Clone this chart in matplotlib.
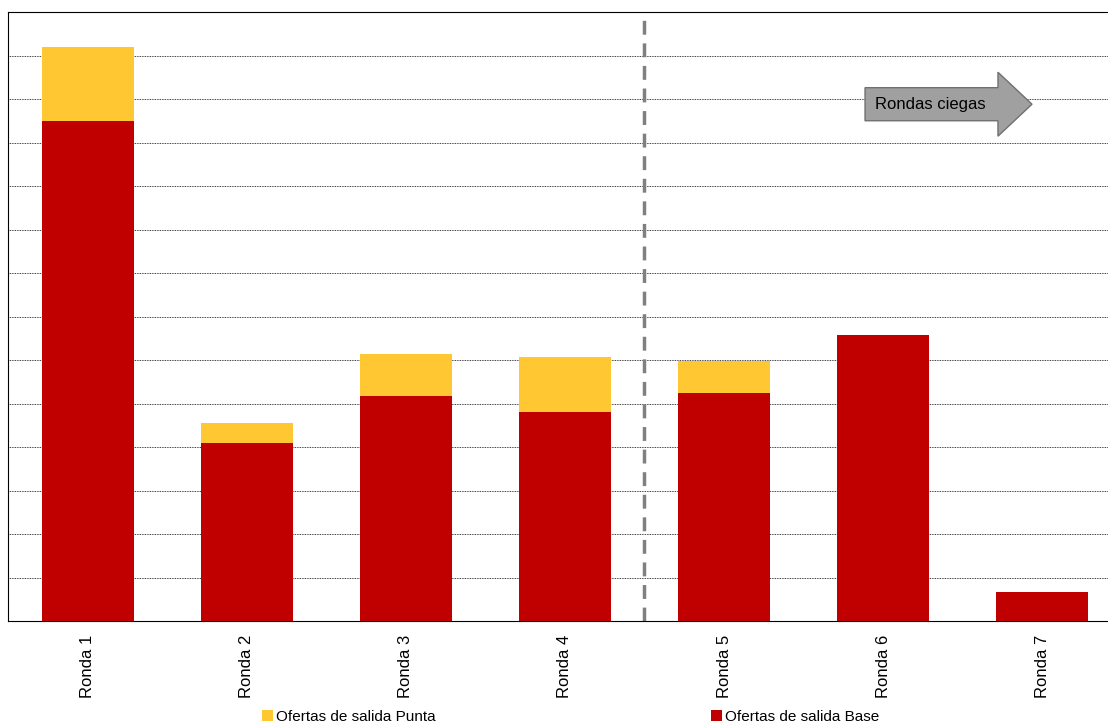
import matplotlib
matplotlib.use("Agg")
import matplotlib.pyplot as plt
from matplotlib.patches import FancyArrow

categories = ["Ronda 1", "Ronda 2", "Ronda 3", "Ronda 4", "Ronda 5", "Ronda 6", "Ronda 7"]
base = [11.49, 4.09, 5.17, 4.80, 5.24, 6.57, 0.67]
punta = [1.71, 0.46, 0.97, 1.27, 0.74, 0.0, 0.0]

fig = plt.figure(figsize=(11.08, 7.27), dpi=100)
ax = fig.add_axes([8/1108, 1-621/727, 1100/1108, 609/727])
x = range(len(categories))
ax.bar(x, base, width=0.575, color="#C00000", label="Ofertas de salida Base", zorder=3)
ax.bar(x, punta, width=0.575, bottom=base, color="#FFC832", label="Ofertas de salida Punta", zorder=3)
ax.set_xlim(-0.503, 6.415)
ax.set_ylim(0, 14)
ax.set_yticks(range(1, 14))
ax.set_yticklabels([])
ax.tick_params(axis="y", length=0)
ax.tick_params(axis="x", length=0, pad=10)
ax.grid(axis="y", color="black", linestyle=(0, (1, 1)), linewidth=0.6, zorder=0)
ax.set_xticks(list(x))
ax.set_xticklabels(categories, rotation=90, fontsize=12, family="Liberation Sans")
ax.spines["right"].set_visible(False)
ax.axvline(3.5, color="#808080", linestyle=(0, (4, 2.5)), linewidth=2.5, zorder=2)

arr = FancyArrow(4.887, 11.88, 0.836, 0, width=0.76, head_width=1.47, head_length=0.214,
                 length_includes_head=False, facecolor="#A0A0A0", edgecolor="#707070", zorder=4)
ax.add_patch(arr)
ax.text(5.296, 11.88, "Rondas ciegas", ha="center", va="center", fontsize=12,
        family="Liberation Sans", zorder=5)

h, l = ax.get_legend_handles_labels()
fig.legend([h[1], h[0]], [l[1], l[0]], loc="lower center", ncol=2, frameon=False,
           bbox_to_anchor=(0.515, -0.015), columnspacing=18, handlelength=0.7,
           handletextpad=0.2, prop={"family": "Liberation Sans", "size": 11})
fig.savefig("out.png", dpi=100)
